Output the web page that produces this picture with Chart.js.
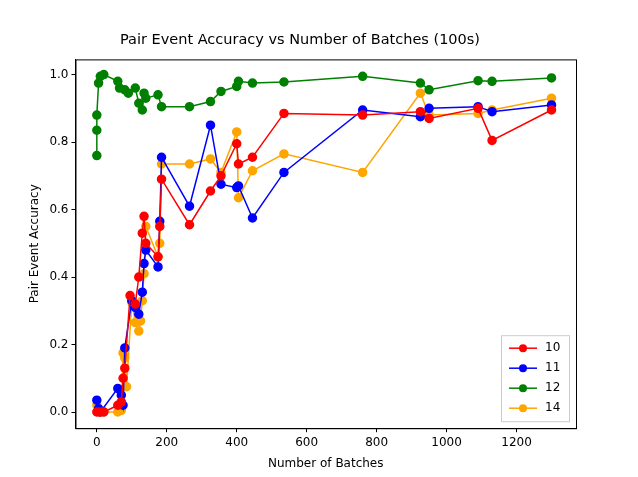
<!DOCTYPE html>
<html>
<head>
<meta charset="utf-8">
<script src="https://cdn.jsdelivr.net/npm/chart.js@4"></script>
<style>
  body { margin: 0; background: #fff; }
  #wrap { width: 638px; height: 477px; }
</style>
</head>
<body>
<div id="wrap"><canvas id="chart"></canvas></div>
<script>
const seriesLabels = ["10", "11", "12", "14"];
const seriesColors = ["red", "blue", "green", "orange"];

const batches10 = [0, 10, 20, 60, 70, 75, 80, 95, 110, 120, 130, 135, 140, 175, 180, 185, 265, 325, 355, 400, 405, 445, 535, 760, 925, 950, 1090, 1130, 1300];
const acc10 = [0.0, 0.0, 0.0, 0.02, 0.03, 0.1, 0.13, 0.345, 0.32, 0.4, 0.53, 0.58, 0.5, 0.46, 0.55, 0.69, 0.555, 0.655, 0.7, 0.795, 0.735, 0.755, 0.885, 0.88, 0.89, 0.87, 0.9, 0.805, 0.895];

const batches11 = [0, 5, 10, 60, 70, 75, 80, 100, 110, 120, 130, 135, 140, 175, 180, 185, 265, 325, 355, 400, 405, 445, 535, 760, 925, 950, 1090, 1130, 1300];
const acc11 = [0.035, 0.01, 0.0, 0.07, 0.05, 0.02, 0.19, 0.33, 0.31, 0.29, 0.355, 0.44, 0.48, 0.43, 0.565, 0.755, 0.61, 0.85, 0.675, 0.665, 0.67, 0.575, 0.71, 0.895, 0.875, 0.9, 0.905, 0.89, 0.91];

const batches12 = [0, 0, 0, 5, 10, 20, 60, 65, 80, 90, 110, 120, 130, 135, 140, 175, 185, 265, 325, 355, 400, 405, 445, 535, 760, 925, 950, 1090, 1130, 1300];
const acc12 = [0.76, 0.835, 0.88, 0.975, 0.995, 1.0, 0.98, 0.96, 0.955, 0.945, 0.96, 0.915, 0.895, 0.945, 0.93, 0.94, 0.905, 0.905, 0.92, 0.95, 0.965, 0.98, 0.975, 0.978, 0.995, 0.975, 0.955, 0.982, 0.98, 0.99];

const batches14 = [0, 5, 20, 60, 70, 75, 80, 85, 100, 110, 120, 125, 130, 135, 140, 175, 180, 185, 265, 325, 355, 400, 405, 445, 535, 760, 925, 950, 1090, 1130, 1300];
const acc14 = [0.02, 0.0, 0.0, 0.0, 0.005, 0.175, 0.16, 0.075, 0.325, 0.265, 0.24, 0.27, 0.33, 0.41, 0.55, 0.46, 0.5, 0.735, 0.735, 0.75, 0.71, 0.83, 0.635, 0.715, 0.765, 0.71, 0.945, 0.88, 0.885, 0.895, 0.93];

const xTicks = [0, 200, 400, 600, 800, 1000, 1200];
const yTicks = [0.0, 0.2, 0.4, 0.6, 0.8, 1.0];

const allX = [batches10, batches11, batches12, batches14];
const allY = [acc10, acc11, acc12, acc14];

const datasets = seriesLabels.map((label, i) => ({
  label,
  data: allX[i].map((x, j) => ({ x, y: allY[i][j] })),
  borderColor: seriesColors[i],
  backgroundColor: seriesColors[i],
  showLine: true,
  borderWidth: 1.5,
  pointRadius: 4,
  pointHoverRadius: 4,
}));

// frame round the plot plus a matplotlib style legend in the lower right
const boxLegend = {
  id: "boxLegend",
  afterDraw(chart) {
    const { ctx, chartArea } = chart;
    ctx.save();
    ctx.strokeStyle = "#000";
    ctx.lineWidth = 1;
    ctx.strokeRect(chartArea.left + 0.5, chartArea.top + 0.5, chartArea.width, chartArea.height);

    const w = 68, h = 86, right = chartArea.right - 7, bottom = chartArea.bottom - 7;
    const left = right - w, top = bottom - h;
    ctx.fillStyle = "rgba(255,255,255,0.8)";
    ctx.strokeStyle = "#ccc";
    ctx.fillRect(left, top, w, h);
    ctx.strokeRect(left + 0.5, top + 0.5, w, h);
    ctx.font = "12px 'DejaVu Sans'";
    ctx.textBaseline = "middle";
    seriesLabels.forEach((label, i) => {
      const y = top + 13 + i * 20;
      ctx.strokeStyle = seriesColors[i];
      ctx.fillStyle = seriesColors[i];
      ctx.lineWidth = 1.5;
      ctx.beginPath();
      ctx.moveTo(left + 8, y);
      ctx.lineTo(left + 36, y);
      ctx.stroke();
      ctx.beginPath();
      ctx.arc(left + 22, y, 4, 0, Math.PI * 2);
      ctx.fill();
      ctx.fillStyle = "#000";
      ctx.fillText(label, left + 44, y);
    });
    ctx.restore();
  },
};

const tickGrid = { display: true, drawOnChartArea: false, drawTicks: true, tickLength: 4, color: "#000" };

new Chart(document.getElementById("chart"), {
  type: "scatter",
  data: { datasets },
  options: {
    responsive: true,
    maintainAspectRatio: false,
    animation: false,
    layout: { padding: { top: 0, right: 62, bottom: 2, left: 24 } },
    plugins: {
      legend: { display: false },
      tooltip: { enabled: false },
      title: {
        display: true,
        text: "Pair Event Accuracy vs Number of Batches (100s)",
        color: "#000",
        font: { family: "DejaVu Sans", size: 14.5, weight: "normal" },
        padding: { top: 32, bottom: 10 },
      },
    },
    scales: {
      x: {
        min: -61,
        max: 1370,
        afterBuildTicks: (axis) => { axis.ticks = xTicks.map((v) => ({ value: v })); },
        grid: tickGrid,
        border: { color: "#000" },
        ticks: { color: "#000", font: { family: "DejaVu Sans", size: 12 }, maxRotation: 0, callback: (v) => String(v) },
        title: { display: true, text: "Number of Batches", color: "#000", font: { family: "DejaVu Sans", size: 12 } },
      },
      y: {
        min: -0.048,
        max: 1.045,
        afterBuildTicks: (axis) => { axis.ticks = yTicks.map((v) => ({ value: v })); },
        grid: tickGrid,
        border: { color: "#000" },
        ticks: { color: "#000", font: { family: "DejaVu Sans", size: 12 }, callback: (v) => v.toFixed(1) },
        title: { display: true, text: "Pair Event Accuracy", color: "#000", font: { family: "DejaVu Sans", size: 12 } },
      },
    },
  },
  plugins: [boxLegend],
});
</script>
</body>
</html>
